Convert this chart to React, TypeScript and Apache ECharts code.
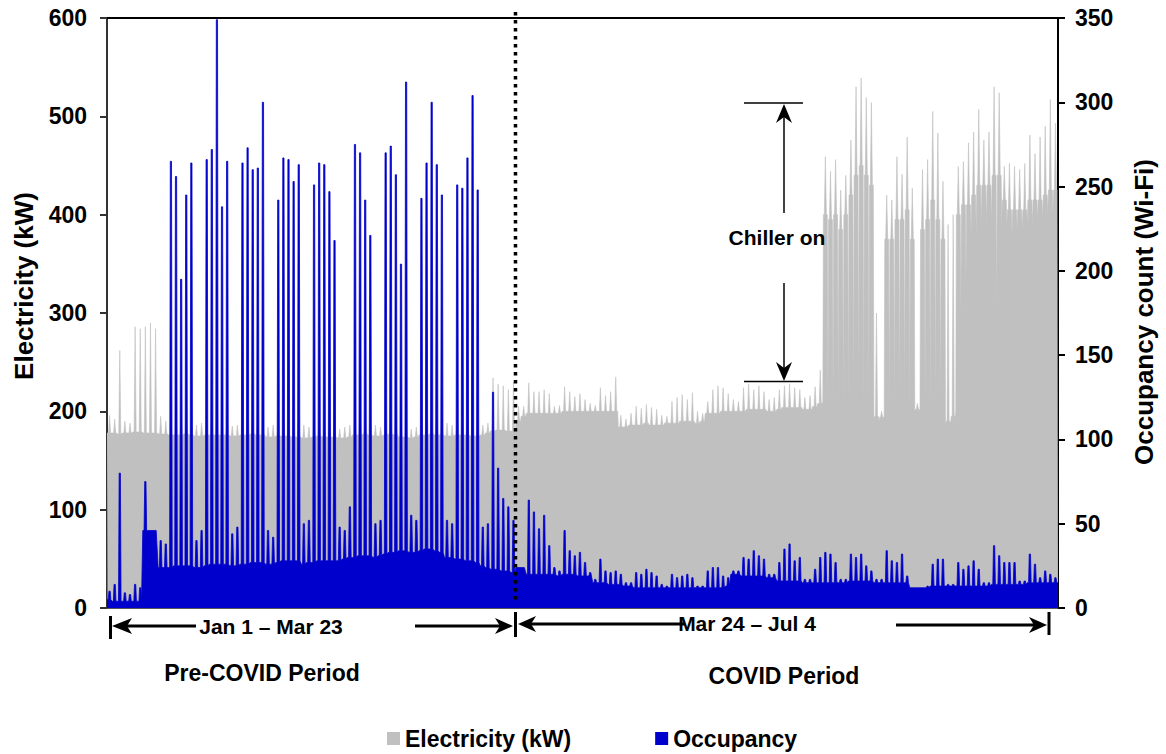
import React, { useEffect, useRef } from 'react';
import * as echarts from 'echarts';

// ---- Data (one entry per day, Jan 1 .. Jul 4) ----
// Electricity (kW): night low, daytime level, daily peak
const elecLevel = [
  178,178,177,178,178,179,179, 178,178,178,177,177,176,176, 176,177,176,175,175,176,176,
  176,176,176,175,175,176,176, 177,176,176,174,174,175,175, 175,174,174,173,173,174,175,
  174,174,174,173,173,174,176, 176,177,176,175,175,176,177, 176,174,174,173,174,176,176,
  177,176,176,175,175,176,176, 176,175,175,176,178,180,181, 181,180,180,190,195,198,198,
  198,198,198,198,198,200,200, 200,200,200,200,200,200,200, 200,200,184,184,186,186,186,
  188,186,186,186,188,188,188, 190,190,190,188,190,198,198, 198,200,200,200,200,200,202,
  202,202,202,200,200,202,204, 204,204,204,202,202,205,208, 400,395,400,385,400,420,440,
  450,440,430,195,194,375,375, 395,395,405,375,202,385,395, 415,395,375,190,195,400,410,
  410,420,430,430,430,440,440, 415,405,405,405,405,415,415, 415,420,425,425,
];
const elecLow = [
  178,178,177,178,178,179,179, 178,178,178,177,177,176,176, 176,177,176,175,175,176,176,
  176,176,176,175,175,176,176, 177,176,176,174,174,175,175, 175,174,174,173,173,174,175,
  174,174,174,173,173,174,176, 176,177,176,175,175,176,177, 176,174,174,173,174,176,176,
  177,176,176,175,175,176,176, 176,175,175,176,178,180,181, 181,180,180,190,195,198,198,
  198,198,198,198,198,200,200, 200,200,200,200,200,200,200, 200,200,184,184,186,186,186,
  188,186,186,186,188,188,188, 190,190,190,188,190,198,198, 198,200,200,200,200,200,202,
  202,202,202,200,200,202,204, 204,204,204,202,202,205,208, 210,205,205,210,205,205,210,
  210,205,205,192,190,195,200, 200,205,210,200,200,200,210, 210,205,200,185,188,200,300,
  330,380,380,390,390,390,300, 390,390,380,385,385,390,390, 395,395,400,400,
];
const elecPeak = [
  196,192,262,190,188,286,284, 286,290,284,195,190,198,194, 192,196,190,186,188,192,196,
  194,190,192,185,186,198,192, 195,196,190,184,186,195,198, 193,190,194,186,184,188,185,
  187,184,186,182,184,186,192, 196,194,190,186,184,188,192, 190,184,186,182,184,194,196,
  192,195,193,188,186,192,190, 194,192,190,186,188,234,228, 226,222,230,205,205,229,220,
  220,222,218,205,206,225,220, 215,218,212,208,206,224,216, 220,235,196,192,198,205,203,
  207,204,202,196,195,210,214, 217,212,219,200,198,210,222, 226,224,218,212,210,224,228,
  222,226,220,212,214,222,226, 228,224,222,214,216,225,242, 459,444,456,425,440,476,530,
  539,519,514,300,200,420,415, 459,441,479,427,208,446,456, 505,483,434,390,400,449,454,
  473,484,507,476,484,530,524, 449,452,449,446,452,481,462, 479,490,517,493,
];
// Occupancy count (Wi-Fi): daily base and daily peak
const occBase = [
  5,4,4,4,4,4,4, 46,46,46,24,24,24,25, 25,25,25,24,24,25,26,
  26,26,26,25,25,26,26, 27,27,27,26,26,27,28, 28,28,28,26,27,27,28,
  28,28,28,28,29,30,30, 31,31,31,30,31,32,33, 33,34,34,33,33,34,35,
  35,34,33,30,30,29,29, 28,28,27,25,24,23,23, 22,22,21,24,24,20,20,
  20,20,20,20,19,20,20, 20,19,19,19,15,15,15, 14,14,14,13,13,12,12,
  12,12,12,12,12,12,12, 12,12,12,12,12,12,12, 12,12,13,20,20,19,19,
  19,19,19,18,18,16,16, 16,16,16,15,15,15,15, 15,15,15,15,15,16,16,
  16,16,16,15,15,15,15, 15,15,15,12,12,12,12, 13,13,13,13,13,13,13,
  13,13,13,13,13,14,14, 14,14,14,14,14,15,15, 15,15,15,15,
];
const occPeak = [
  10,14,80,9,8,14,12, 75,46,46,40,38,265,256, 195,245,264,40,46,266,272,
  349,238,265,44,48,264,273, 260,261,300,46,42,242,267, 266,253,263,50,52,251,264,
  263,247,218,48,46,60,275, 270,242,221,50,52,270,274, 257,204,312,55,52,243,264,
  300,263,245,52,50,251,249, 267,304,248,48,50,128,83, 65,60,52,24,24,64,57,
  47,55,37,24,22,46,34, 31,33,27,21,17,29,22, 21,22,20,15,15,21,20,
  23,21,19,14,13,20,18, 19,20,18,13,13,22,24, 24,19,18,22,22,30,29,
  34,31,29,20,20,27,35, 38,28,30,17,17,23,30, 33,32,27,17,17,32,30,
  32,25,22,17,17,34,28, 27,32,19,12,12,12,13, 26,29,29,14,14,27,23,
  25,28,23,15,15,37,31, 27,27,27,16,16,32,26, 18,22,20,18,
];

const seriesNames = ['Electricity (kW)', 'Occupancy'];
const elecAxis = { min: 0, max: 600, interval: 100 };
const occAxis = { min: 0, max: 350, interval: 50 };
const axisTitles = ['Electricity (kW)', 'Occupancy count (Wi-Fi)'];
const periodLabels = ['Jan 1 – Mar 23', 'Mar 24 – Jul 4'];
const periodNames = ['Pre-COVID Period', 'COVID Period'];
const annotationText = 'Chiller on';

const GREY = '#C1C0C1';
const BLUE = '#0000CC';
const FONT = '"Liberation Sans", Arial, sans-serif';

function buildElec(): number[][] {
  const pts: number[][] = [];
  for (let d = 0; d < elecLevel.length; d++) {
    pts.push([d, elecLow[d]]);
    pts.push([d + 0.12, elecLevel[d]]);
    pts.push([d + 0.3, elecLevel[d]]);
    pts.push([d + 0.5, elecPeak[d]]);
    pts.push([d + 0.7, elecLevel[d]]);
    pts.push([d + 0.88, elecLevel[d]]);
  }
  pts.push([elecLevel.length, elecLevel[elecLevel.length - 1]]);
  return pts;
}

function buildOcc(): number[][] {
  const pts: number[][] = [];
  for (let d = 0; d < occBase.length; d++) {
    pts.push([d, occBase[d]]);
    pts.push([d + 0.25, occBase[d]]);
    pts.push([d + 0.38, occPeak[d]]);
    pts.push([d + 0.62, occPeak[d]]);
    pts.push([d + 0.75, occBase[d]]);
  }
  pts.push([occBase.length, occBase[occBase.length - 1]]);
  return pts;
}

function txt(text: string, x: number, y: number, size: number, rotation = 0) {
  return {
    type: 'text', x, y, rotation, z: 100,
    style: { text, fill: '#000', fontSize: size, fontWeight: 'bold', fontFamily: FONT, align: 'center', verticalAlign: 'middle' },
  };
}
function seg(x1: number, y1: number, x2: number, y2: number, w: number) {
  return { type: 'line', z: 100, shape: { x1, y1, x2, y2 }, style: { stroke: '#000', lineWidth: w } };
}
function head(points: number[][]) {
  return { type: 'polygon', z: 100, shape: { points }, style: { fill: '#000' } };
}

export default function App() {
  const ref = useRef<HTMLDivElement>(null);
  useEffect(() => {
    document.body.style.margin = '0';
    if (!ref.current) return;
    const chart = echarts.init(ref.current, undefined, { renderer: 'svg' });
    const nDays = elecLevel.length;
    const axisLabel = { fontSize: 23, fontWeight: 'bold', color: '#000', fontFamily: FONT };
    chart.setOption({
      animation: false,
      textStyle: { fontFamily: FONT },
      grid: { left: 107, right: 108, top: 18, bottom: 146 },
      legend: {
        data: seriesNames, left: 382, top: 722, icon: 'rect', itemWidth: 13, itemHeight: 13, itemGap: 84,
        selectedMode: false, textStyle: { fontSize: 23, fontWeight: 'bold', color: '#000', fontFamily: FONT },
      },
      xAxis: [
        { type: 'value', min: 0, max: nDays, position: 'bottom', axisLine: { show: true, onZero: false, lineStyle: { color: '#555', width: 2 } }, axisTick: { show: false }, axisLabel: { show: false }, splitLine: { show: false } },
        { type: 'value', min: 0, max: nDays, position: 'top', axisLine: { show: true, onZero: false, lineStyle: { color: '#000', width: 2 } }, axisTick: { show: false }, axisLabel: { show: false }, splitLine: { show: false } },
      ],
      yAxis: [
        { type: 'value', ...elecAxis, position: 'left', axisLine: { show: true, onZero: false, lineStyle: { color: '#333', width: 2 } }, axisTick: { show: true, length: 7, lineStyle: { color: '#333', width: 2 } }, axisLabel: { ...axisLabel, margin: 20 }, splitLine: { show: false } },
        { type: 'value', ...occAxis, position: 'right', axisLine: { show: true, onZero: false, lineStyle: { color: '#000', width: 2 } }, axisTick: { show: true, length: 7, lineStyle: { color: '#000', width: 2 } }, axisLabel: { ...axisLabel, margin: 17 }, splitLine: { show: false } },
      ],
      series: [
        { name: seriesNames[0], type: 'line', xAxisIndex: 0, yAxisIndex: 0, data: buildElec(), symbol: 'none', showSymbol: false, color: GREY, lineStyle: { width: 0.6, color: GREY }, areaStyle: { color: GREY, opacity: 1 }, z: 2 },
        { name: seriesNames[1], type: 'line', xAxisIndex: 0, yAxisIndex: 1, data: buildOcc(), symbol: 'none', showSymbol: false, color: BLUE, lineStyle: { width: 0.8, color: BLUE }, areaStyle: { color: BLUE, opacity: 1 }, z: 3 },
      ],
      graphic: [
        // period divider
        { type: 'line', z: 100, shape: { x1: 515.5, y1: 12, x2: 515.5, y2: 601 }, style: { stroke: '#000', lineWidth: 3.5, lineDash: [3.5, 4.5] } },
        // axis titles
        txt(axisTitles[0], 24, 286, 26, Math.PI / 2),
        txt(axisTitles[1], 1144, 312, 26, Math.PI / 2),
        // chiller annotation
        seg(744, 103, 803, 103, 1.5),
        seg(784, 112, 784, 213, 1.5),
        head([[784, 104], [776, 123], [784, 117], [792, 123]]),
        txt(annotationText, 777, 237, 21),
        seg(784, 283, 784, 372, 1.5),
        head([[784, 381], [776, 362], [784, 368], [792, 362]]),
        seg(744, 381.5, 803, 381.5, 1.5),
        // period arrows
        seg(110.5, 616, 110.5, 639, 3),
        seg(122, 626, 196, 626, 3),
        head([[112, 626], [132, 618], [127, 626], [132, 634]]),
        txt(periodLabels[0], 271, 626, 21),
        seg(415, 626, 503, 626, 3),
        head([[513, 626], [495, 618], [500, 626], [495, 634]]),
        seg(515.5, 612, 515.5, 637, 3),
        seg(525, 624, 685, 624, 3),
        head([[518, 624], [536, 616], [531, 624], [536, 632]]),
        txt(periodLabels[1], 747, 623, 21),
        seg(896, 625, 1038, 625, 3),
        head([[1047, 625], [1029, 617], [1034, 625], [1029, 633]]),
        seg(1049, 612, 1049, 635, 3),
        txt(periodNames[0], 262, 673, 23),
        txt(periodNames[1], 784, 676, 23),
      ],
    });
    return () => chart.dispose();
  }, []);
  return <div ref={ref} style={{ width: 1166, height: 754 }} />;
}
